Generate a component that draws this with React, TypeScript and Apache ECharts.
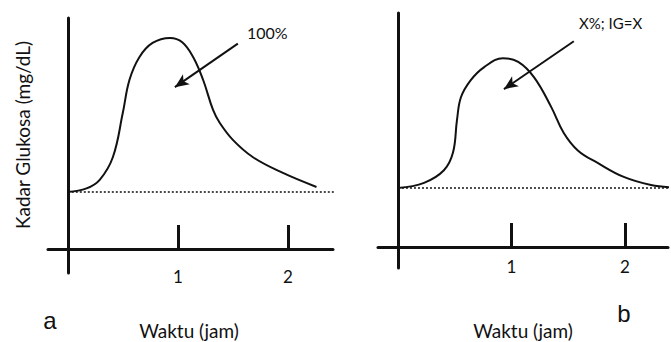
import React, { useEffect, useRef } from "react";
import * as echarts from "echarts";

// Panel a (100% reference curve)
const timeA = [0, 0.17, 0.29, 0.41, 0.5, 0.56, 0.65, 0.77, 0.93, 1.04, 1.14, 1.23, 1.32, 1.38, 1.5, 1.68, 1.95, 2.26];
const glucoseA = [80, 85, 97, 129, 191, 237, 269, 289, 296, 290, 269, 237, 195, 177, 153, 129, 107, 87];
// Panel b (test food curve)
const timeB = [0, 0.23, 0.405, 0.485, 0.52, 0.555, 0.64, 0.76, 0.925, 1.06, 1.2, 1.35, 1.46, 1.585, 1.76, 1.99, 2.23, 2.4];
const glucoseB = [80, 87, 104, 128, 172, 203, 226, 244, 256, 251, 230, 190, 155, 131, 114, 95, 84, 81];
const baselineValue = 80;
const baselineEndA = 2.43;
const baselineEndB = 2.41;
const tickValues = [1, 2];
const arrowA = [[1.545, 288], [0.973, 227]];
const arrowB = [[1.55, 279], [0.934, 214]];
const labelA = "100%";
const labelB = "X%; IG=X";
const yTitle = "Kadar Glukosa (mg/dL)";
const xTitle = "Waktu (jam)";

const FONT = "Lato";
const INK = "#111";

function zip(xs: number[], ys: number[]) {
  return xs.map((x, i) => [x, ys[i]]);
}

function xAxisCfg(gridIndex: number, min: number, max: number, margin: number) {
  return {
    type: "value",
    gridIndex,
    min,
    max,
    splitLine: { show: false },
    axisLine: { onZero: true, lineStyle: { color: INK, width: 3 } },
    axisTick: {
      show: true,
      inside: true,
      length: 24,
      customValues: tickValues,
      lineStyle: { color: INK, width: 3 },
    },
    axisLabel: {
      customValues: tickValues,
      margin,
      color: INK,
      fontSize: 17,
      fontFamily: FONT,
    },
  };
}

function yAxisCfg(gridIndex: number, min: number, max: number) {
  return {
    type: "value",
    gridIndex,
    min,
    max,
    splitLine: { show: false },
    axisLine: { show: true, onZero: true, lineStyle: { color: INK, width: 3 } },
    axisTick: { show: false },
    axisLabel: { show: false },
  };
}

function arrowMark(pts: number[][]) {
  return {
    silent: true,
    symbol: ["none", "arrow"],
    symbolSize: [9, 14],
    lineStyle: { color: INK, width: 2, type: "solid" },
    label: { show: false },
    data: [[{ coord: pts[0] }, { coord: pts[1] }]],
  };
}

export default function App() {
  const ref = useRef<HTMLDivElement>(null);
  useEffect(() => {
    if (!ref.current) return;
    const chart = echarts.init(ref.current, null, { renderer: "svg" });
    chart.setOption({
      animation: false,
      backgroundColor: "#fff",
      grid: [
        { left: 48, top: 18, width: 285, height: 255 },
        { left: 378, top: 13, width: 290, height: 255 },
      ],
      xAxis: [xAxisCfg(0, -0.18, 2.41, -5), xAxisCfg(1, -0.176, 2.38, -10)],
      yAxis: [yAxisCfg(0, -33.7, 324), yAxisCfg(1, -28.5, 317.3)],
      series: [
        {
          type: "line",
          xAxisIndex: 0,
          yAxisIndex: 0,
          data: zip(timeA, glucoseA),
          smooth: 0.4,
          showSymbol: false,
          clip: false,
          lineStyle: { color: INK, width: 2 },
          markLine: arrowMark(arrowA),
        },
        {
          type: "line",
          xAxisIndex: 0,
          yAxisIndex: 0,
          data: [[0, baselineValue], [baselineEndA, baselineValue]],
          showSymbol: false,
          clip: false,
          lineStyle: { color: INK, width: 1.5, type: [2, 2] },
        },
        {
          type: "line",
          xAxisIndex: 1,
          yAxisIndex: 1,
          data: zip(timeB, glucoseB),
          smooth: 0.4,
          showSymbol: false,
          clip: false,
          lineStyle: { color: INK, width: 2 },
          markLine: arrowMark(arrowB),
        },
        {
          type: "line",
          xAxisIndex: 1,
          yAxisIndex: 1,
          data: [[0, baselineValue], [baselineEndB, baselineValue]],
          showSymbol: false,
          clip: false,
          lineStyle: { color: INK, width: 1.5, type: [2, 2] },
        },
      ],
      graphic: [
        {
          type: "text",
          x: 22,
          y: 135,
          rotation: Math.PI / 2,
          style: {
            text: yTitle,
            fill: INK,
            fontSize: 19,
            fontFamily: FONT,
            align: "center",
            verticalAlign: "middle",
          },
        },
        {
          type: "text",
          x: 247,
          y: 32,
          style: { text: labelA, fill: INK, fontSize: 16, fontFamily: FONT, align: "left", verticalAlign: "middle" },
        },
        {
          type: "text",
          x: 579,
          y: 23,
          style: { text: labelB, fill: INK, fontSize: 15, fontFamily: FONT, align: "left", verticalAlign: "middle" },
        },
        {
          type: "text",
          x: 189,
          y: 330,
          style: { text: xTitle, fill: INK, fontSize: 19, fontFamily: FONT, align: "center", verticalAlign: "middle" },
        },
        {
          type: "text",
          x: 523,
          y: 330,
          style: { text: xTitle, fill: INK, fontSize: 19, fontFamily: FONT, align: "center", verticalAlign: "middle" },
        },
        {
          type: "text",
          x: 50,
          y: 320,
          style: { text: "a", fill: INK, fontSize: 24, fontFamily: "Liberation Sans", align: "center", verticalAlign: "middle" },
        },
        {
          type: "text",
          x: 624,
          y: 313,
          style: { text: "b", fill: INK, fontSize: 24, fontFamily: "Liberation Sans", align: "center", verticalAlign: "middle" },
        },
      ],
    });
    return () => chart.dispose();
  }, []);
  return (
    <div
      ref={ref}
      style={{ position: "fixed", left: 0, top: 0, width: 671, height: 342 }}
    />
  );
}
